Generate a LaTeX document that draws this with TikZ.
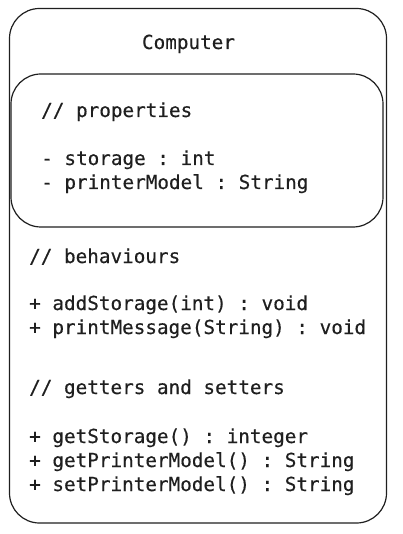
\documentclass[tikz,border=0pt]{standalone}
\usepackage{fontspec}
\setmonofont[FakeBold=0.4]{DejaVu Sans Mono}
\begin{document}
\begin{tikzpicture}[x=1pt,y=-1pt,line join=round,line cap=round,
    box/.style={draw=black!88,line width=1.2pt,rounded corners=30pt},
    txt/.style={anchor=base west,inner sep=0pt,text=black!88,
      font=\ttfamily\fontsize{19.3}{24}\selectfont}]
  \useasboundingbox (0,0) rectangle (402,534);
  % class box and the properties box
  \draw[box] (9.5,8.5) rectangle (386.5,523);
  \draw[box] (11,74) rectangle (383,227);
  \node[txt,anchor=base] (title) at (188.5,49) {Computer};
  % properties
  \node[txt] (props) at (41,117) {// properties};
  \node[txt] (storage) at (41,165) {- storage : int};
  \node[txt] (printer) at (41,189) {- printerModel : String};
  % behaviours
  \node[txt] (behav) at (29,263) {// behaviours};
  \node[txt] (addst) at (29,310) {+ addStorage(int) : void};
  \node[txt] (printmsg) at (29,334) {+ printMessage(String) : void};
  % getters and setters
  \node[txt] (getset) at (29,394) {// getters and setters};
  \node[txt] (getst) at (29,443) {+ getStorage() : integer};
  \node[txt] (getpm) at (29,467) {+ getPrinterModel() : String};
  \node[txt] (setpm) at (29,491) {+ setPrinterModel() : String};
\end{tikzpicture}
\end{document}
